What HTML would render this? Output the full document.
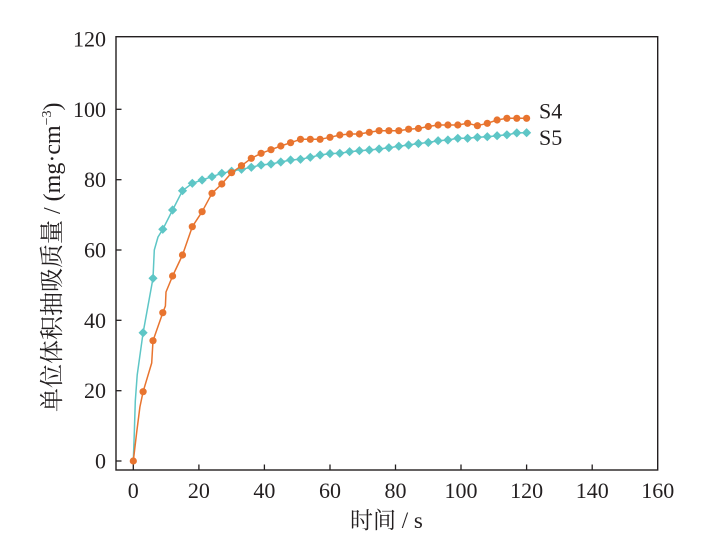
<!DOCTYPE html>
<html>
<head>
<meta charset="utf-8">
<style>
html,body{margin:0;padding:0;background:#fff;}
svg{display:block;}
text{font-family:"Liberation Serif","Noto Serif CJK SC",serif;fill:#231f20;}
</style>
</head>
<body>
<svg width="713" height="542" viewBox="0 0 713 542" xmlns="http://www.w3.org/2000/svg">
<defs>
  <g id="d">
    <polygon points="0,-4.6 4.6,0 0,4.6 -4.6,0"/>
    <circle r="3"/>
  </g>
</defs>
<rect width="713" height="542" fill="#fff"/>

<!-- frame -->
<rect x="116" y="36.7" width="541.7" height="433.3" fill="none" stroke="#231f20" stroke-width="1.4"/>

<!-- y ticks -->
<g stroke="#231f20" stroke-width="1.3">
  <line x1="116" y1="461" x2="121.5" y2="461"/>
  <line x1="116" y1="390.7" x2="121.5" y2="390.7"/>
  <line x1="116" y1="320.3" x2="121.5" y2="320.3"/>
  <line x1="116" y1="250" x2="121.5" y2="250"/>
  <line x1="116" y1="179.7" x2="121.5" y2="179.7"/>
  <line x1="116" y1="109.3" x2="121.5" y2="109.3"/>
  <line x1="133.3" y1="470" x2="133.3" y2="464.5"/>
  <line x1="198.9" y1="470" x2="198.9" y2="464.5"/>
  <line x1="264.4" y1="470" x2="264.4" y2="464.5"/>
  <line x1="330" y1="470" x2="330" y2="464.5"/>
  <line x1="395.5" y1="470" x2="395.5" y2="464.5"/>
  <line x1="461" y1="470" x2="461" y2="464.5"/>
  <line x1="526.6" y1="470" x2="526.6" y2="464.5"/>
  <line x1="592.2" y1="470" x2="592.2" y2="464.5"/>
</g>

<!-- y tick labels -->
<g font-size="22" text-anchor="end">
  <text x="106" y="468.5">0</text>
  <text x="106" y="398.2">20</text>
  <text x="106" y="327.8">40</text>
  <text x="106" y="257.5">60</text>
  <text x="106" y="187.2">80</text>
  <text x="106" y="116.8">100</text>
  <text x="106" y="46.5">120</text>
</g>

<!-- x tick labels -->
<g font-size="22" text-anchor="middle">
  <text x="133.3" y="498">0</text>
  <text x="198.9" y="498">20</text>
  <text x="264.4" y="498">40</text>
  <text x="330" y="498">60</text>
  <text x="395.5" y="498">80</text>
  <text x="461" y="498">100</text>
  <text x="526.6" y="498">120</text>
  <text x="592.2" y="498">140</text>
  <text x="657.7" y="498">160</text>
</g>

<!-- axis labels -->
<text x="350" y="528" font-size="23">时间 / s</text>
<text transform="translate(60,412) rotate(-90)" font-size="24">单位体积抽吸质量 / (mg·cm<tspan font-size="14" dy="-9">−3</tspan><tspan dy="9">)</tspan></text>

<!-- S5 teal -->
<polyline fill="none" stroke="#5ec6c6" stroke-width="1.5" stroke-linejoin="round"
points="133.3,461 134.3,433 135.3,401 137.2,375 143.1,332.7 153.0,278.3 154.3,250 158,237 162.8,229.3 172.6,210 182.5,190.7 192.3,183.3 202.1,180 212.0,176.7 221.8,173.3 231.6,171.2 241.5,169.3 251.3,167.3 261.1,165 271.0,164 280.8,162 290.6,160 300.5,159.3 310.3,157.3 320.1,155 330.0,153.6 339.8,153.3 349.6,151.7 359.4,150.7 369.3,150 379.1,149 388.9,147.7 398.8,146.2 408.6,145 418.4,143.5 428.3,142.5 438.1,140.7 447.9,140 457.8,138.3 467.6,138.3 477.4,137.3 487.3,136.7 497.1,135.7 506.9,134.8 516.8,132.9 526.6,132.7"/>
<g fill="#5ec6c6">
<use href="#d" x="143.1" y="332.7"/><use href="#d" x="153.0" y="278.3"/><use href="#d" x="162.8" y="229.3"/><use href="#d" x="172.6" y="210"/><use href="#d" x="182.5" y="190.7"/><use href="#d" x="192.3" y="183.3"/><use href="#d" x="202.1" y="180"/><use href="#d" x="212.0" y="176.7"/><use href="#d" x="221.8" y="173.3"/><use href="#d" x="231.6" y="171.2"/><use href="#d" x="241.5" y="169.3"/><use href="#d" x="251.3" y="167.3"/><use href="#d" x="261.1" y="165"/><use href="#d" x="271.0" y="164"/><use href="#d" x="280.8" y="162"/><use href="#d" x="290.6" y="160"/><use href="#d" x="300.5" y="159.3"/><use href="#d" x="310.3" y="157.3"/><use href="#d" x="320.1" y="155"/><use href="#d" x="330.0" y="153.6"/><use href="#d" x="339.8" y="153.3"/><use href="#d" x="349.6" y="151.7"/><use href="#d" x="359.4" y="150.7"/><use href="#d" x="369.3" y="150"/><use href="#d" x="379.1" y="149"/><use href="#d" x="388.9" y="147.7"/><use href="#d" x="398.8" y="146.2"/><use href="#d" x="408.6" y="145"/><use href="#d" x="418.4" y="143.5"/><use href="#d" x="428.3" y="142.5"/><use href="#d" x="438.1" y="140.7"/><use href="#d" x="447.9" y="140"/><use href="#d" x="457.8" y="138.3"/><use href="#d" x="467.6" y="138.3"/><use href="#d" x="477.4" y="137.3"/><use href="#d" x="487.3" y="136.7"/><use href="#d" x="497.1" y="135.7"/><use href="#d" x="506.9" y="134.8"/><use href="#d" x="516.8" y="132.9"/><use href="#d" x="526.6" y="132.7"/>
</g>

<!-- S4 orange -->
<polyline fill="none" stroke="#e8742f" stroke-width="1.5" stroke-linejoin="round"
points="133.3,461 136.6,433 139.9,407 143.1,391.7 151.7,363 153.0,340.7 162.8,312.7 165.4,306 166,292 172.6,276 182.5,255 192.3,226.7 202.1,211.7 212.0,193.3 221.8,184 231.6,172.7 241.5,165.7 251.3,158.3 261.1,153.3 271.0,149.7 280.8,146 290.6,142.7 300.5,139.3 310.3,139.3 320.1,139.3 330.0,137.3 339.8,135 349.6,134 359.4,134 369.3,132.3 379.1,130.7 388.9,130.7 398.8,130.7 408.6,129.2 418.4,128.5 428.3,126.5 438.1,125 447.9,125 457.8,125 467.6,123.3 477.4,125.7 487.3,123.3 497.1,120 506.9,118.3 516.8,118.3 526.6,118.3"/>
<g fill="#e8742f">
<circle r="3.6" cx="133.3" cy="461"/><circle r="3.6" cx="143.1" cy="391.7"/><circle r="3.6" cx="153.0" cy="340.7"/><circle r="3.6" cx="162.8" cy="312.7"/><circle r="3.6" cx="172.6" cy="276"/><circle r="3.6" cx="182.5" cy="255"/><circle r="3.6" cx="192.3" cy="226.7"/><circle r="3.6" cx="202.1" cy="211.7"/><circle r="3.6" cx="212.0" cy="193.3"/><circle r="3.6" cx="221.8" cy="184"/><circle r="3.6" cx="231.6" cy="172.7"/><circle r="3.6" cx="241.5" cy="165.7"/><circle r="3.6" cx="251.3" cy="158.3"/><circle r="3.6" cx="261.1" cy="153.3"/><circle r="3.6" cx="271.0" cy="149.7"/><circle r="3.6" cx="280.8" cy="146"/><circle r="3.6" cx="290.6" cy="142.7"/><circle r="3.6" cx="300.5" cy="139.3"/><circle r="3.6" cx="310.3" cy="139.3"/><circle r="3.6" cx="320.1" cy="139.3"/><circle r="3.6" cx="330.0" cy="137.3"/><circle r="3.6" cx="339.8" cy="135"/><circle r="3.6" cx="349.6" cy="134"/><circle r="3.6" cx="359.4" cy="134"/><circle r="3.6" cx="369.3" cy="132.3"/><circle r="3.6" cx="379.1" cy="130.7"/><circle r="3.6" cx="388.9" cy="130.7"/><circle r="3.6" cx="398.8" cy="130.7"/><circle r="3.6" cx="408.6" cy="129.2"/><circle r="3.6" cx="418.4" cy="128.5"/><circle r="3.6" cx="428.3" cy="126.5"/><circle r="3.6" cx="438.1" cy="125"/><circle r="3.6" cx="447.9" cy="125"/><circle r="3.6" cx="457.8" cy="125"/><circle r="3.6" cx="467.6" cy="123.3"/><circle r="3.6" cx="477.4" cy="125.7"/><circle r="3.6" cx="487.3" cy="123.3"/><circle r="3.6" cx="497.1" cy="120"/><circle r="3.6" cx="506.9" cy="118.3"/><circle r="3.6" cx="516.8" cy="118.3"/><circle r="3.6" cx="526.6" cy="118.3"/>
</g>

<!-- series labels -->
<text x="539" y="118.3" font-size="22">S4</text>
<text x="539" y="145" font-size="22">S5</text>
</svg>
</body>
</html>
